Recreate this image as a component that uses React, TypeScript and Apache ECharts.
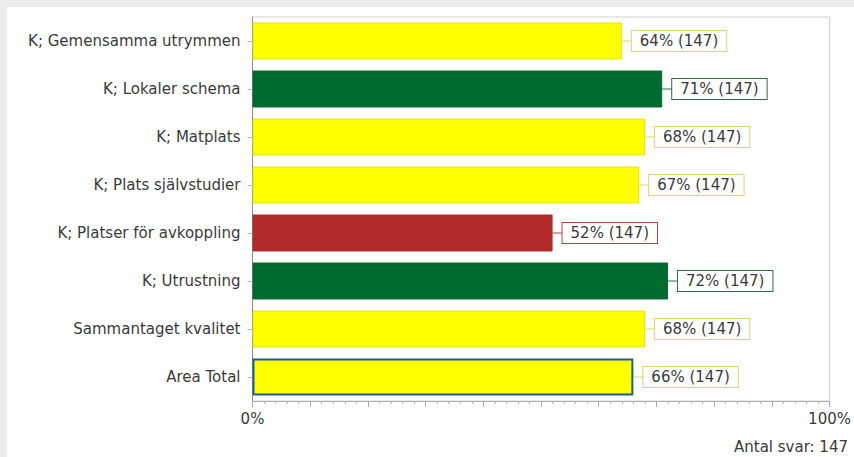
import React, { useEffect, useRef } from "react";
import * as echarts from "echarts";

const categories = [
  "K; Gemensamma utrymmen",
  "K; Lokaler schema",
  "K; Matplats",
  "K; Plats självstudier",
  "K; Platser för avkoppling",
  "K; Utrustning",
  "Sammantaget kvalitet",
  "Area Total",
];
const values = [64, 71, 68, 67, 52, 72, 68, 66];
const counts = [147, 147, 147, 147, 147, 147, 147, 147];
const levels = ["yellow", "green", "yellow", "yellow", "red", "green", "yellow", "yellow"];
const xTickLabels = { 0: "0%", 100: "100%" } as Record<number, string>;
const footnote = "Antal svar: 147";

const barColors: Record<string, string> = { yellow: "#ffff00", green: "#006b2e", red: "#b02a2a" };
const labelBorders: Record<string, string> = { yellow: "#d6d66e", green: "#2e6e44", red: "#b04444" };
const FONT = "'DejaVu Sans', Verdana, sans-serif";

export default function App() {
  const ref = useRef<HTMLDivElement>(null);
  useEffect(() => {
    if (!ref.current) return;
    const chart = echarts.init(ref.current, null, { renderer: "svg" });
    const last = categories.length - 1;
    chart.setOption({
      animation: false,
      backgroundColor: "#ffffff",
      textStyle: { fontFamily: FONT },
      grid: {
        left: 245.5,
        right: 24,
        top: 10,
        bottom: 56,
        show: true,
        borderColor: "#d2d2d2",
        borderWidth: 1,
      },
      xAxis: {
        type: "value",
        min: 0,
        max: 100,
        interval: 10,
        axisLine: { show: true, lineStyle: { color: "#b0b0b0" } },
        axisTick: { show: true, length: 6, lineStyle: { color: "#a8a8a8" } },
        minorTick: { show: true, splitNumber: 5, length: 3, lineStyle: { color: "#b8b8b8" } },
        splitLine: { show: false },
        axisLabel: {
          margin: 10,
          fontSize: 15,
          color: "#3a3a3a",
          fontFamily: FONT,
          formatter: (v: number) => xTickLabels[v] ?? "",
        },
      },
      yAxis: {
        type: "category",
        data: categories,
        inverse: true,
        axisLine: { show: true, lineStyle: { color: "#8c8c8c" } },
        axisTick: { show: true, alignWithLabel: true, length: 5, lineStyle: { color: "#b8b8b8" } },
        axisLabel: { margin: 12, fontSize: 15, color: "#3a3a3a", fontFamily: FONT },
      },
      series: [
        {
          type: "bar",
          barCategoryGap: "23%",
          data: values.map((v, i) => ({
            value: v,
            itemStyle: {
              color: barColors[levels[i]],
              borderColor: i === last ? "#1f5c9c" : levels[i] === "yellow" ? "#e4e400" : barColors[levels[i]],
              borderWidth: i === last ? 2 : 1,
            },
            label: { borderColor: labelBorders[levels[i]] },
          })),
          label: {
            show: true,
            position: "right",
            distance: 10,
            formatter: (p: any) => `${p.value}% (${counts[p.dataIndex]})`,
            fontSize: 15,
            fontFamily: FONT,
            color: "#3a3a3a",
            backgroundColor: "#ffffff",
            borderWidth: 1,
            padding: [3, 8, 2, 8],
          },
        },
        {
          type: "custom",
          silent: true,
          data: values.map((v, i) => [v, i]),
          encode: { x: 0, y: 1 },
          renderItem: (params: any, api: any) => {
            const p = api.coord([api.value(0), api.value(1)]);
            const i = params.dataIndex;
            return {
              type: "line",
              shape: { x1: p[0], y1: p[1], x2: p[0] + 10, y2: p[1] },
              style: { stroke: labelBorders[levels[i]], lineWidth: 1 },
            };
          },
          z: 1,
        },
      ],
      graphic: [
        {
          type: "text",
          right: 6,
          top: 432,
          style: { text: footnote, fontSize: 15, fontFamily: FONT, fill: "#3a3a3a" },
        },
      ],
    });
    return () => chart.dispose();
  }, []);
  return (
    <div style={{ position: "fixed", left: 0, top: 0, width: 854, height: 457, background: "#ececec" }}>
      <div ref={ref} style={{ position: "absolute", left: 7, top: 7, width: 847, height: 450 }} />
    </div>
  );
}
